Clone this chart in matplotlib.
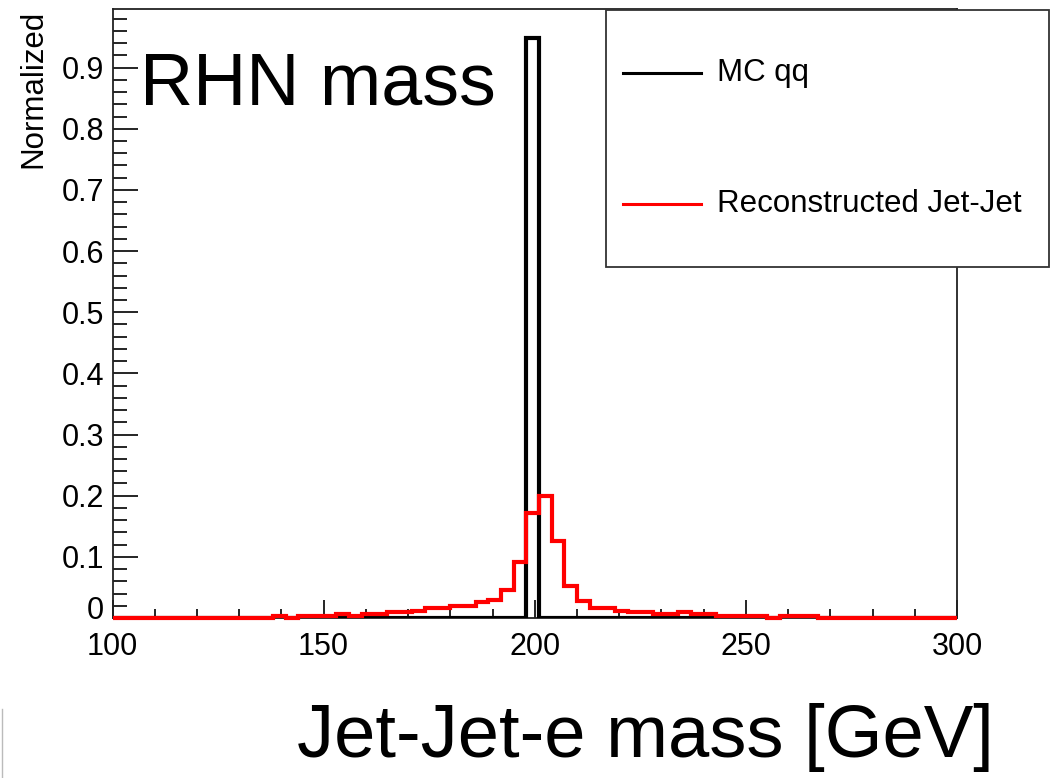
import numpy as np
import matplotlib
matplotlib.use("Agg")
import matplotlib.pyplot as plt
from matplotlib.patches import Rectangle
from matplotlib.lines import Line2D
from matplotlib.ticker import MultipleLocator, FuncFormatter

plt.rcParams['font.family'] = ['Liberation Sans', 'DejaVu Sans']

# 3 GeV bins, lower edges 99 ... 297
bin_edges = np.arange(99, 301, 3)

# MC qq: single peak bin at 198-201
mc_qq = np.zeros(len(bin_edges) - 1)
mc_qq[list(bin_edges).index(198)] = 0.949

# Reconstructed Jet-Jet (by lower bin edge)
reco_vals = {
    138: 0.003, 144: 0.003, 147: 0.003, 150: 0.003, 153: 0.006, 156: 0.003,
    159: 0.007, 162: 0.007, 165: 0.010, 168: 0.010, 171: 0.012, 174: 0.016,
    177: 0.016, 180: 0.020, 183: 0.020, 186: 0.026, 189: 0.029, 192: 0.046,
    195: 0.091, 198: 0.172, 201: 0.199, 204: 0.126, 207: 0.053, 210: 0.027,
    213: 0.017, 216: 0.017, 219: 0.012, 222: 0.009, 225: 0.009, 228: 0.006,
    231: 0.006, 234: 0.009, 237: 0.006, 240: 0.006, 243: 0.004, 246: 0.004,
    249: 0.004, 252: 0.004, 258: 0.004, 261: 0.004, 264: 0.004,
}
reco = np.array([reco_vals.get(int(e), 0.0) for e in bin_edges[:-1]])

W, H = 1052, 778
fig = plt.figure(figsize=(W / 100, H / 100), dpi=100)
ax = fig.add_axes([112.5 / W, 1 - 618 / H, (957 - 112.5) / W, (618 - 9.5) / H])

ax.stairs(mc_qq, bin_edges, color='black', lw=3, zorder=3)
red = ax.stairs(reco, bin_edges, color='#ff0000', lw=3, zorder=4)
clip = Rectangle((0, -0.02), 1, 1.04, transform=ax.transAxes, visible=False)
ax.add_patch(clip)
red.set_clip_path(clip)

ax.set_xlim(100, 300)
ax.set_ylim(0, 0.995)

ax.xaxis.set_major_locator(MultipleLocator(50))
ax.xaxis.set_minor_locator(MultipleLocator(10))
ax.yaxis.set_major_locator(MultipleLocator(0.1))
ax.yaxis.set_minor_locator(MultipleLocator(0.02))
# the "0" label is drawn by hand below, a little raised so it clears "100"
ax.yaxis.set_major_formatter(FuncFormatter(
    lambda v, p: '' if abs(v) < 1e-9 else f'{v:.1f}'))

ax.tick_params(axis='x', which='major', direction='in', length=13, width=1.2,
               labelsize=22, pad=10, top=False)
ax.tick_params(axis='x', which='minor', direction='in', length=6.5, width=1.2, top=False)
ax.tick_params(axis='y', which='major', direction='in', length=18, width=1.2,
               labelsize=22, pad=6, right=False)
ax.tick_params(axis='y', which='minor', direction='in', length=10, width=1.2, right=False)
for s in ax.spines.values():
    s.set_linewidth(1.3)
    s.set_color('#222222')

ax.annotate('0', xy=(0, 0), xycoords=('axes fraction', 'data'),
            xytext=(-6, 5), textcoords='offset points', ha='right', va='center',
            fontsize=22, annotation_clip=False)

fig.text(33 / W, 1 - 10 / H, 'Normalized', rotation=90, ha='center', va='top',
         fontsize=22.5)

# slide annotations
fig.text(140 / W, 1 - 85 / H, 'RHN mass', ha='left', va='center', fontsize=53)
fig.text(297 / W, 1 - 738 / H, 'Jet-Jet-e mass [GeV]', ha='left', va='center',
         fontsize=53.5)
fig.add_artist(Line2D([1.5 / W, 1.5 / W], [0, 1 - 709 / H], color='#bbbbbb', lw=1))

# legend box
fig.add_artist(Rectangle((606 / W, 1 - 267 / H), (1049 - 606) / W, (267 - 10) / H,
                         transform=fig.transFigure, facecolor='white',
                         edgecolor='#333333', lw=1.3, zorder=5))
legend_items = [('MC qq', 'black', 73), ('Reconstructed Jet-Jet', '#ff0000', 204)]
for label, col, yy in legend_items:
    fig.add_artist(Line2D([623 / W, 701 / W], [1 - yy / H, 1 - yy / H],
                          color=col, lw=2.2, zorder=6))
    fig.text(717 / W, 1 - yy / H, label, ha='left', va='center', fontsize=22.5,
             zorder=6)

fig.savefig('out.png', dpi=100)
